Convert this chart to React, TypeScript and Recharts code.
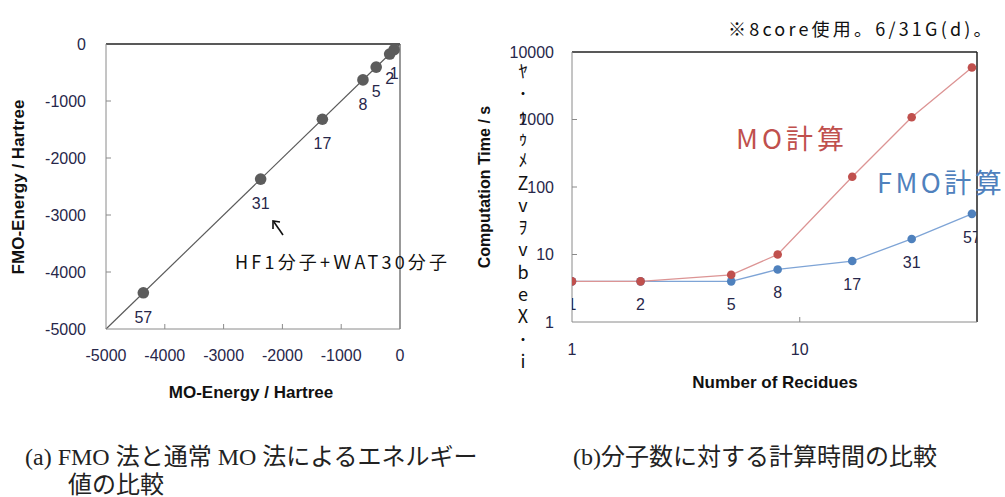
import { ScatterChart, Scatter, LineChart, Line, XAxis, YAxis, ReferenceLine } from 'recharts'

// (a) energies, Hartree
const residues = [1, 2, 5, 8, 17, 31, 57]
const moEnergy = [-100, -176, -405, -630, -1320, -2370, -4365]
const fmoEnergy = [-100, -176, -405, -630, -1320, -2370, -4365]
const energyTicks = [-5000, -4000, -3000, -2000, -1000, 0]

// (b) computation time, s
const moTime = [4, 4, 5, 10, 142, 1080, 5900]
const fmoTime = [4, 4, 4, 6, 8, 17, 40]
const residueTicks = [1, 10]
const timeTicks = [1, 10, 100, 1000, 10000]

// broken (mojibake) axis title, one glyph per line
const garbledTitle = ['ﾔ', '･', 'ｩ', 'ｩ', 'ﾒ', 'Z', 'v', 'ｦ', 'v', 'b', 'e', 'X', '･', 'i']

const NUM_FONT = '"Liberation Sans", Arial, sans-serif'
const JP_FONT = '"Noto Sans CJK JP", "Liberation Sans", sans-serif'
const SERIF_JP = '"Liberation Serif", "Noto Sans CJK JP", serif'
const TICK_COLOR = '#27274a'
const AXIS_GREY = '#8a8a8a'
const MO_RED = '#c0504d'
const FMO_BLUE = '#4f81bd'

const energyData = residues.map((n, i) => ({ n, mo: moEnergy[i], fmo: fmoEnergy[i] }))
const timeData = residues.map((n, i) => ({ n, mo: moTime[i], fmo: fmoTime[i] }))

function YTick(props: any) {
    const { x, y, payload, gap, inner } = props
    return (
        <g>
            {inner.includes(payload.value) && <line x1={x} y1={y} x2={x + 5} y2={y} stroke={AXIS_GREY} />}
            <text x={x - gap} y={y} dy="0.36em" textAnchor="end" fontSize={16} fontFamily={NUM_FONT} fill={TICK_COLOR}>
                {payload.value}
            </text>
        </g>
    )
}

function XTick(props: any) {
    const { x, y, payload, gap, inner } = props
    return (
        <g>
            {inner.includes(payload.value) && <line x1={x} y1={y} x2={x} y2={y - 5} stroke={AXIS_GREY} />}
            <text x={x} y={y + gap} dy="0.36em" textAnchor="middle" fontSize={16} fontFamily={NUM_FONT} fill={TICK_COLOR}>
                {payload.value}
            </text>
        </g>
    )
}

function EnergyPoint(props: any) {
    const { cx, cy, payload } = props
    return (
        <g>
            <circle cx={cx} cy={cy} r={5.8} fill="#5c5c5c" />
            <text x={cx} y={cy + 24} dy="0.36em" textAnchor="middle" fontSize={16} fontFamily={NUM_FONT} fill={TICK_COLOR}>
                {payload.n}
            </text>
        </g>
    )
}

function FmoDot(props: any) {
    const { cx, cy, payload, index } = props
    return (
        <g key={'fmo-' + index}>
            <circle cx={cx} cy={cy} r={4.3} fill={FMO_BLUE} />
            <text x={cx} y={cy + 23} dy="0.36em" textAnchor="middle" fontSize={16} fontFamily={NUM_FONT} fill={TICK_COLOR}>
                {payload.n}
            </text>
        </g>
    )
}

function EnergyChart() {
    return (
        <ScatterChart width={460} height={420} margin={{ top: 44, right: 60, bottom: 51, left: 10 }}>
            <XAxis
                type="number"
                dataKey="mo"
                domain={[-5000, 0]}
                ticks={energyTicks}
                height={40}
                tickSize={0}
                tickMargin={0}
                tickLine={false}
                axisLine={{ stroke: AXIS_GREY }}
                tick={(p: any) => <XTick {...p} gap={26} inner={[-4000, -3000, -2000, -1000]} />}
            />
            <YAxis
                type="number"
                dataKey="fmo"
                domain={[-5000, 0]}
                ticks={energyTicks}
                width={96}
                tickSize={0}
                tickMargin={0}
                tickLine={false}
                axisLine={{ stroke: AXIS_GREY }}
                tick={(p: any) => <YTick {...p} gap={20} inner={[-4000, -3000, -2000, -1000]} />}
            />
            <ReferenceLine y={0} stroke="#222" strokeWidth={1.5} />
            <ReferenceLine x={0} stroke="#777" strokeWidth={1.5} />
            <ReferenceLine
                segment={[{ x: -5000, y: -5000 }, { x: 0, y: 0 }]}
                stroke="#5a5a5a"
                strokeWidth={1.2}
            />
            <Scatter data={energyData} shape={(p: any) => <EnergyPoint {...p} />} isAnimationActive={false} />
        </ScatterChart>
    )
}

function TimeChart() {
    return (
        <LineChart width={545} height={420} data={timeData} margin={{ top: 52, right: 28, bottom: 58, left: 12 }}>
            <XAxis
                type="number"
                dataKey="n"
                scale="log"
                domain={[1, 60]}
                ticks={residueTicks}
                allowDataOverflow
                height={40}
                tickSize={0}
                tickMargin={0}
                tickLine={false}
                axisLine={{ stroke: AXIS_GREY }}
                tick={(p: any) => <XTick {...p} gap={27} inner={[10]} />}
            />
            <YAxis
                type="number"
                scale="log"
                domain={[1, 10000]}
                ticks={timeTicks}
                allowDataOverflow
                width={100}
                tickSize={0}
                tickMargin={0}
                tickLine={false}
                axisLine={{ stroke: AXIS_GREY }}
                tick={(p: any) => <YTick {...p} gap={18} inner={[10, 100, 1000]} />}
            />
            <ReferenceLine y={10000} stroke="#222" strokeWidth={1.5} />
            <ReferenceLine x={60} stroke="#222" strokeWidth={1.5} />
            <Line
                dataKey="fmo"
                stroke="#7ea4d6"
                strokeWidth={1.3}
                dot={(p: any) => <FmoDot {...p} />}
                isAnimationActive={false}
            />
            <Line
                dataKey="mo"
                stroke="#dc9494"
                strokeWidth={1.3}
                dot={{ r: 4.3, fill: MO_RED, stroke: 'none' }}
                isAnimationActive={false}
            />
        </LineChart>
    )
}

export default function App() {
    return (
        <div style={{ position: 'absolute', left: 0, top: 0, width: 1005, height: 497, background: '#fff', overflow: 'hidden' }}>
            <div style={{ position: 'absolute', left: 0, top: 0 }}>
                <EnergyChart />
            </div>
            <div style={{ position: 'absolute', left: 460, top: 0 }}>
                <TimeChart />
            </div>
            <svg width={1005} height={497} style={{ position: 'absolute', left: 0, top: 0, pointerEvents: 'none' }}>
                {/* (a) titles and note */}
                <text x={18} y={187} transform="rotate(-90 18 187)" textAnchor="middle" dominantBaseline="central"
                    fontSize={17} fontWeight="bold" fontFamily={NUM_FONT} fill="#111">FMO-Energy / Hartree</text>
                <text x={251} y={392} textAnchor="middle" dominantBaseline="central"
                    fontSize={17} fontWeight="bold" fontFamily={NUM_FONT} fill="#111">MO-Energy / Hartree</text>
                <line x1={283} y1={235} x2={274} y2={222} stroke="#111" strokeWidth={1.6} />
                <polyline points="273,229 273,221 280,222" fill="none" stroke="#111" strokeWidth={1.6} />
                <text x={235} y={261} dominantBaseline="central" fontSize={18} letterSpacing={3.2}
                    fontFamily={JP_FONT} fill="#111">HF1分子+ＷAT30分子</text>

                {/* (b) titles and notes */}
                <text x={484} y={187} transform="rotate(-90 484 187)" textAnchor="middle" dominantBaseline="central"
                    fontSize={16} fontWeight="bold" fontFamily={NUM_FONT} fill="#111">Computation Time / s</text>
                {garbledTitle.map((c, i) => (
                    <text key={i} x={523} y={70 + i * 22.3} textAnchor="middle" dominantBaseline="central"
                        fontSize={18} fontFamily={JP_FONT} fill="#111">{c}</text>
                ))}
                <text x={775} y={382} textAnchor="middle" dominantBaseline="central"
                    fontSize={17} fontWeight="bold" fontFamily={NUM_FONT} fill="#111">Number of Recidues</text>
                <text x={736} y={137} dominantBaseline="central" fontSize={27} letterSpacing={4}
                    fontFamily={JP_FONT} fill={MO_RED}>MO計算</text>
                <text x={877} y={181} dominantBaseline="central" fontSize={27} letterSpacing={3.5}
                    fontFamily={JP_FONT} fill={FMO_BLUE}>FMO計算</text>
                <text x={728} y={28} dominantBaseline="central" fontSize={18} letterSpacing={3.2}
                    fontFamily={JP_FONT} fill="#111">※8core使用。6/31G(d)。</text>

                {/* captions */}
                <text x={25} y={457} dominantBaseline="central" fontSize={24} fontFamily={SERIF_JP} fill="#222">
                    (a) FMO 法と通常 MO 法によるエネルギー
                </text>
                <text x={68} y={485} dominantBaseline="central" fontSize={24} fontFamily={SERIF_JP} fill="#222">
                    値の比較
                </text>
                <text x={573} y={457} dominantBaseline="central" fontSize={24} fontFamily={SERIF_JP} fill="#222">
                    (b)分子数に対する計算時間の比較
                </text>
            </svg>
        </div>
    )
}
